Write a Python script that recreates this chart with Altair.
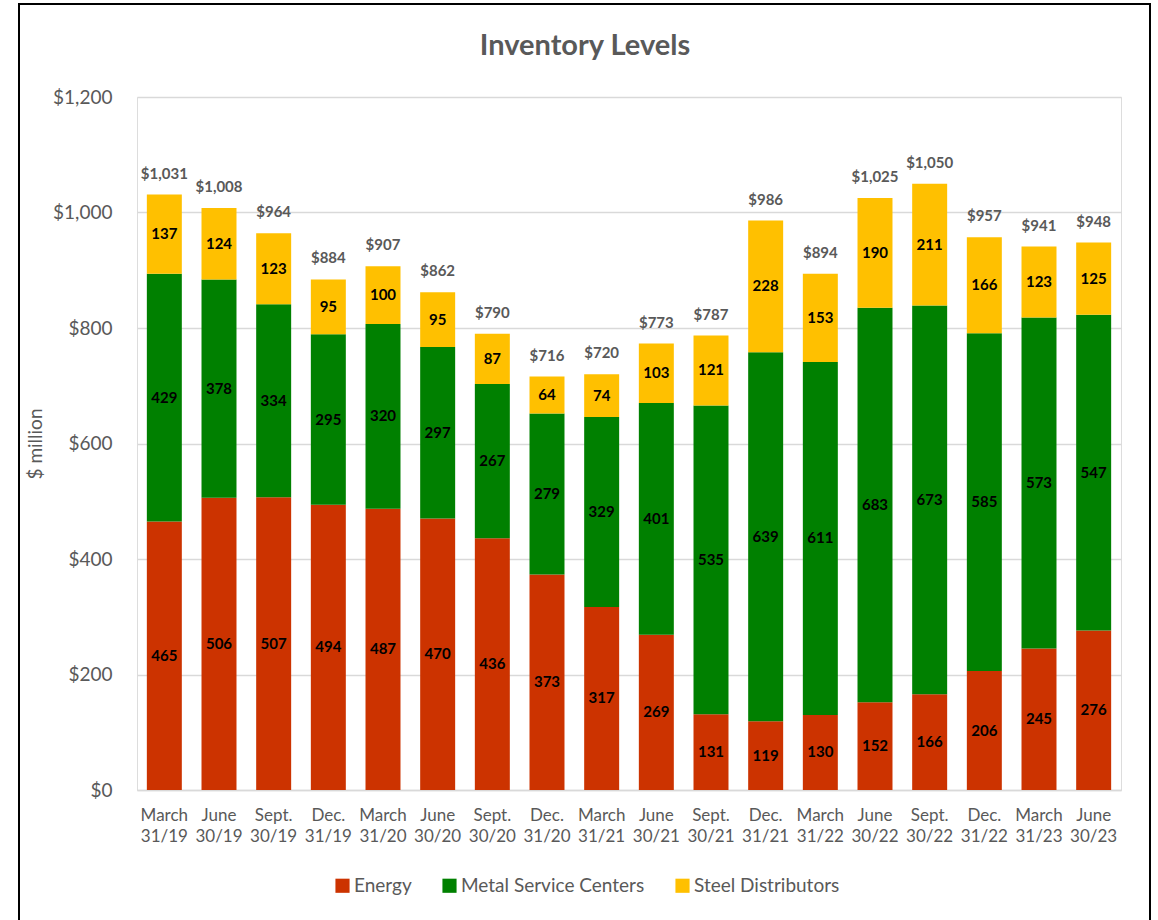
import altair as alt
import pandas as pd

periods = ["March 31/19", "June 30/19", "Sept. 30/19", "Dec. 31/19",
           "March 31/20", "June 30/20", "Sept. 30/20", "Dec. 31/20",
           "March 31/21", "June 30/21", "Sept. 30/21", "Dec. 31/21",
           "March 31/22", "June 30/22", "Sept. 30/22", "Dec. 31/22",
           "March 31/23", "June 30/23"]
energy = [465, 506, 507, 494, 487, 470, 436, 373, 317, 269, 131, 119, 130, 152, 166, 206, 245, 276]
metal = [429, 378, 334, 295, 320, 297, 267, 279, 329, 401, 535, 639, 611, 683, 673, 585, 573, 547]
steel = [137, 124, 123, 95, 100, 95, 87, 64, 74, 103, 121, 228, 153, 190, 211, 166, 123, 125]
totals = [1031, 1008, 964, 884, 907, 862, 790, 716, 720, 773, 787, 986, 894, 1025, 1050, 957, 941, 948]

series = ["Energy", "Metal Service Centers", "Steel Distributors"]
colors = ["#CC3300", "#008000", "#FFC000"]
title_text = "Inventory Levels"

rows = []
for i, p in enumerate(periods):
    for k, (s, vals) in enumerate(zip(series, [energy, metal, steel])):
        rows.append({"period": p, "series": s, "value": vals[i], "ord": k})
df = pd.DataFrame(rows)
tot_df = pd.DataFrame({"period": periods, "total": totals})

FONT = "Lato"
W, H = 984, 693
LEFT, TOP = 137, 97

xenc = alt.X("period:N", sort=periods, title=None,
             scale=alt.Scale(paddingInner=0.36, paddingOuter=0.18),
             axis=alt.Axis(labelAngle=0, labelExpr="split(datum.label, ' ')",
                           labelFontSize=17, labelColor="#595959", labelFont=FONT,
                           labelPadding=17, labelLineHeight=21, ticks=False,
                           domainColor="#d9d9d9", domainWidth=1.5))
yscale = alt.Scale(domain=[0, 1200])

base = alt.Chart(df).transform_stack(
    stack="value", groupby=["period"], as_=["y0", "y1"],
    sort=[alt.SortField("ord", order="ascending")], offset="zero"
)

bars = base.mark_bar().encode(
    x=xenc,
    y=alt.Y("y0:Q", scale=yscale, title="$ million",
            axis=alt.Axis(values=[0, 200, 400, 600, 800, 1000, 1200], format="$,.0f",
                          labelFontSize=19, labelColor="#595959", labelFont=FONT,
                          labelPadding=25, ticks=False, domain=False,
                          gridColor="#d9d9d9", gridWidth=1.5,
                          titleFontSize=19, titleFontWeight="normal", titleColor="#595959",
                          titleFont=FONT, titlePadding=7)),
    y2="y1:Q",
    color=alt.Color("series:N", scale=alt.Scale(domain=series, range=colors),
                    legend=alt.Legend(title=None, orient="none", direction="horizontal",
                                      legendX=196, legendY=779, symbolType="square",
                                      symbolSize=200, symbolStrokeWidth=0,
                                      labelFontSize=19, labelColor="#595959", labelFont=FONT,
                                      labelOffset=2, columnPadding=28, labelLimit=0)),
)

seg_labels = base.transform_calculate(mid="(datum.y0 + datum.y1) / 2").mark_text(
    fontWeight="bold", fontSize=15, color="black", font=FONT, baseline="middle"
).encode(x=alt.X("period:N", sort=periods), y=alt.Y("mid:Q", scale=yscale), text="value:Q")

tot_labels = alt.Chart(tot_df).mark_text(
    fontWeight="bold", fontSize=15, color="#595959", font=FONT, baseline="bottom", dy=-13
).encode(x=alt.X("period:N", sort=periods), y=alt.Y("total:Q", scale=yscale),
         text=alt.Text("total:Q", format="$,.0f"))

title = alt.Chart(pd.DataFrame({"t": [title_text]})).mark_text(
    fontWeight="bold", fontSize=29, color="#595959", font=FONT, baseline="middle", align="center"
).encode(x=alt.value(585 - LEFT), y=alt.value(46 - TOP), text="t:N")

border = alt.Chart(pd.DataFrame({"a": [0]})).mark_rect(
    fill=None, stroke="black", strokeWidth=2
).encode(x=alt.value(19 - LEFT), x2=alt.value(1150 - LEFT),
         y=alt.value(4 - TOP), y2=alt.value(940 - TOP))

chart = alt.layer(bars, seg_labels, tot_labels, title, border).properties(
    width=W, height=H,
    autosize=alt.AutoSizeParams(type="none"),
    padding={"left": LEFT, "top": TOP, "right": 1158 - LEFT - W, "bottom": 920 - TOP - H},
).configure_view(stroke=None).configure(background="white")

chart.save("out.html", embed_options={"renderer": "svg", "actions": False})
